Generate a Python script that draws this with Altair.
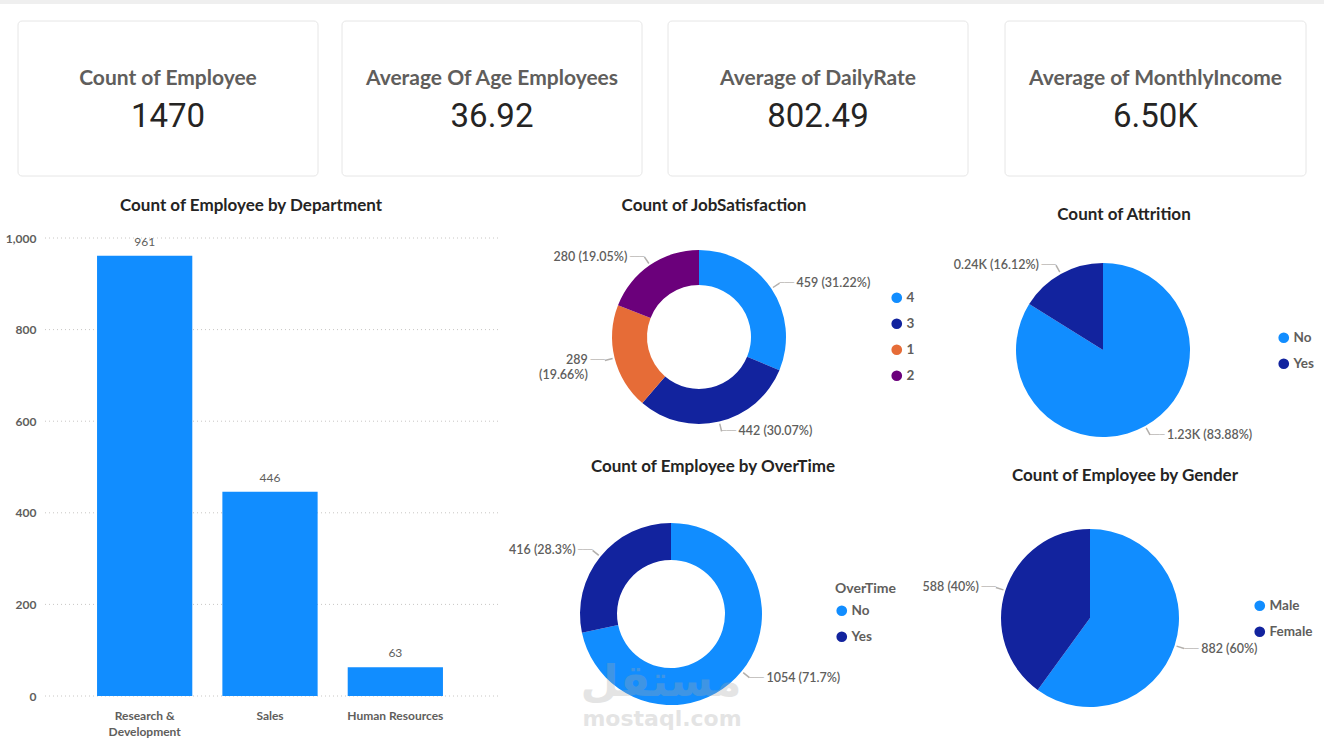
import math
import altair as alt
import pandas as pd

W, H = 1324, 747

# ---------------- data ----------------
KPI_TITLES = ["Count of Employee", "Average Of Age Employees", "Average of DailyRate", "Average of MonthlyIncome"]
KPI_VALUES = ["1470", "36.92", "802.49", "6.50K"]

DEPARTMENTS = ["Research & Development", "Sales", "Human Resources"]
DEPT_COUNTS = [961, 446, 63]
Y_TICKS = [0, 200, 400, 600, 800, 1000]

JS_LEVELS = ["4", "3", "1", "2"]
JS_COUNTS = [459, 442, 289, 280]
JS_LABELS = ["459 (31.22%)", "442 (30.07%)", "289\n(19.66%)", "280 (19.05%)"]

ATT_CATS = ["No", "Yes"]
ATT_COUNTS = [1233, 237]
ATT_LABELS = ["1.23K (83.88%)", "0.24K (16.12%)"]

OT_CATS = ["No", "Yes"]
OT_COUNTS = [1054, 416]
OT_LABELS = ["1054 (71.7%)", "416 (28.3%)"]

G_CATS = ["Male", "Female"]
G_COUNTS = [882, 588]
G_LABELS = ["882 (60%)", "588 (40%)"]

WM_TEXT = ["مستقل", "mostaql.com"]

# ---------------- style / layout ----------------
LIGHT = "#118DFF"
DARK = "#12239E"
ORANGE = "#E66C37"
PURPLE = "#6B007B"
GREY = "#605E5C"
INK = "#252423"
FONT = "Lato"
NUM_FONT = "Roboto"

CARD_LEFT = [18, 342, 668, 1005]
CARD_RIGHT = [318, 642, 968, 1306]
CARD_TOP, CARD_BOTTOM = 21, 176
KPI_TITLE_Y, KPI_VALUE_Y = 79, 117

layers = []

# thin strip at the very top
layers.append(
    alt.Chart(pd.DataFrame({"k": [0]})).mark_rect(fill="#EFEFEF").encode(
        x=alt.value(0), x2=alt.value(W), y=alt.value(0), y2=alt.value(4)
    )
)

# ---------------- KPI cards ----------------
for i in range(4):
    df = pd.DataFrame({"title": [KPI_TITLES[i]], "value": [KPI_VALUES[i]]})
    base = alt.Chart(df)
    cx = (CARD_LEFT[i] + CARD_RIGHT[i]) / 2
    layers.append(
        base.mark_rect(fill="white", stroke="#E6E6E6", strokeWidth=1, cornerRadius=4).encode(
            x=alt.value(CARD_LEFT[i]), x2=alt.value(CARD_RIGHT[i]),
            y=alt.value(CARD_TOP), y2=alt.value(CARD_BOTTOM)
        )
    )
    layers.append(
        base.mark_text(font=FONT, fontSize=21, fontWeight="bold", color=GREY, baseline="middle").encode(
            x=alt.value(cx), y=alt.value(KPI_TITLE_Y), text="title:N"
        )
    )
    layers.append(
        base.mark_text(font=NUM_FONT, fontSize=33, color=INK, baseline="middle").encode(
            x=alt.value(cx), y=alt.value(KPI_VALUE_Y), text="value:N"
        )
    )


def title_layer(text, x, y):
    return alt.Chart(pd.DataFrame({"t": [text]})).mark_text(
        font=FONT, fontSize=17, fontWeight="bold", color=INK, baseline="middle"
    ).encode(x=alt.value(x), y=alt.value(y), text="t:N")


# ---------------- bar chart ----------------
dept_df = pd.DataFrame({"dept": DEPARTMENTS, "count": DEPT_COUNTS})
grid_df = pd.DataFrame({"count": Y_TICKS})

x_enc = alt.X(
    "dept:N", sort=DEPARTMENTS, title=None,
    scale=alt.Scale(range=[82, 458], paddingInner=0.24, paddingOuter=0.12),
    axis=alt.Axis(
        orient="bottom", offset=-50, domain=False, ticks=False, grid=False, labelAngle=0,
        labelPadding=13, labelFont=FONT, labelFontSize=12, labelFontWeight="bold",
        labelColor=GREY, labelLineHeight=16,
        labelExpr="datum.label == 'Research & Development' ? ['Research &', 'Development'] : datum.label",
    ),
)
y_enc = alt.Y(
    "count:Q", title=None,
    scale=alt.Scale(domain=[0, 1000], range=[696, 238], nice=False, zero=True),
    axis=alt.Axis(
        orient="left", values=Y_TICKS, format=",d", offset=-40, domain=False, ticks=False, grid=False,
        labelPadding=4, labelFont=FONT, labelFontSize=12, labelFontWeight="bold", labelColor=GREY,
    ),
)
grid = alt.Chart(grid_df).mark_rule(color="#C8C6C4", strokeDash=[1, 3], strokeWidth=1).encode(
    y=y_enc, x=alt.value(45), x2=alt.value(500)
)
bars = alt.Chart(dept_df).mark_bar(color=LIGHT).encode(x=x_enc, y=y_enc)
bar_labels = alt.Chart(dept_df).mark_text(
    baseline="bottom", dy=-7, font=FONT, fontSize=12, color=GREY
).encode(x=x_enc, y=y_enc, text="count:Q")
layers.append(alt.layer(grid, bars, bar_labels))
layers.append(title_layer("Count of Employee by Department", 251, 206))


# ---------------- pies ----------------
def pie(cats, counts, labels, colors, cx, cy, r, inner, lx, ly, legend_title=None):
    total = sum(counts)
    df = pd.DataFrame({"cat": cats, "count": counts, "label": labels})
    df["end"] = df["count"].cumsum()
    df["start"] = df["end"] - df["count"]
    df["mid"] = (df["start"] + df["end"]) / 2
    df["side"] = ["right" if m < total / 2 else "left" for m in df["mid"]]
    eps = total * 0.0013
    df["mid_a"] = df["mid"] - eps
    df["mid_b"] = df["mid"] + eps
    th = alt.Scale(domain=[0, total], range=[0, 2 * math.pi])
    leg = dict(
        orient="none", legendX=lx, legendY=ly, symbolType="circle", symbolSize=115,
        symbolStrokeWidth=0, labelFont=FONT, labelFontSize=13.5, labelFontWeight="bold",
        labelColor=GREY, rowPadding=11, labelOffset=3,
    )
    if legend_title:
        leg.update(title=legend_title, titleFont=FONT, titleFontSize=14, titleFontWeight="bold",
                   titleColor=GREY, titlePadding=8)
    else:
        leg["title"] = None
    base = alt.Chart(df)
    pos = dict(x=alt.value(cx), y=alt.value(cy))
    parts = []
    arc_kwargs = dict(outerRadius=r)
    if inner:
        arc_kwargs["innerRadius"] = inner
    parts.append(
        base.mark_arc(**arc_kwargs).encode(
            theta=alt.Theta("start:Q", scale=th), theta2="end:Q",
            color=alt.Color("cat:N", sort=cats, scale=alt.Scale(domain=cats, range=colors),
                            legend=alt.Legend(**leg)),
            **pos,
        )
    )
    parts.append(
        base.mark_arc(outerRadius=r + 10, innerRadius=r + 2, color="#B3B0AD").encode(
            theta=alt.Theta("mid_a:Q", scale=th), theta2="mid_b:Q", **pos
        )
    )
    for side, align, sign in [("right", "left", 1), ("left", "right", -1)]:
        sub = base.transform_filter(alt.datum.side == side)
        parts.append(
            sub.mark_text(radius=r + 10, text="───", font="DejaVu Sans", fontSize=8,
                          color="#B3B0AD", align=align, baseline="middle").encode(
                theta=alt.Theta("mid:Q", scale=th, stack=False), **pos
            )
        )
        parts.append(
            sub.mark_text(radius=r + 10, dx=sign * 17, font=FONT, fontSize=12.5, fontWeight=600,
                          color=GREY, align=align, baseline="middle", lineBreak="\n").encode(
                theta=alt.Theta("mid:Q", scale=th, stack=False), text="label:N", **pos
            )
        )
    return alt.layer(*parts)


layers.append(pie(JS_LEVELS, JS_COUNTS, JS_LABELS, [LIGHT, DARK, ORANGE, PURPLE],
                  699, 337, 87, 52, 890, 291))
layers.append(title_layer("Count of JobSatisfaction", 714, 206))

layers.append(pie(ATT_CATS, ATT_COUNTS, ATT_LABELS, [LIGHT, DARK],
                  1103, 350, 87, 0, 1277, 331))
layers.append(title_layer("Count of Attrition", 1124, 215))

layers.append(pie(OT_CATS, OT_COUNTS, OT_LABELS, [LIGHT, DARK],
                  671, 614, 91, 54, 835, 582, legend_title="OverTime"))
layers.append(title_layer("Count of Employee by OverTime", 713, 467))

layers.append(pie(G_CATS, G_COUNTS, G_LABELS, [LIGHT, DARK],
                  1090, 618, 89, 0, 1253, 599))
layers.append(title_layer("Count of Employee by Gender", 1125, 476))

# faint watermark
layers.append(
    alt.Chart(pd.DataFrame({"t": [WM_TEXT[0]]})).mark_text(
        font="DejaVu Sans", fontSize=44, fontWeight="bold", color="#A8A8A8", opacity=0.3, baseline="middle"
    ).encode(x=alt.value(661), y=alt.value(683), text="t:N")
)
layers.append(
    alt.Chart(pd.DataFrame({"t": [WM_TEXT[1]]})).mark_text(
        font="DejaVu Sans", fontSize=22, fontWeight="bold", color="#A8A8A8", opacity=0.3, baseline="middle"
    ).encode(x=alt.value(662), y=alt.value(719), text="t:N")
)

chart = (
    alt.layer(*layers)
    .resolve_scale(theta="independent", color="independent")
    .properties(width=W, height=H, autosize=alt.AutoSizeParams(type="none"), padding=0, background="white")
    .configure_view(strokeOpacity=0)
)
chart.save("out.html", embed_options={"renderer": "svg", "actions": False})
